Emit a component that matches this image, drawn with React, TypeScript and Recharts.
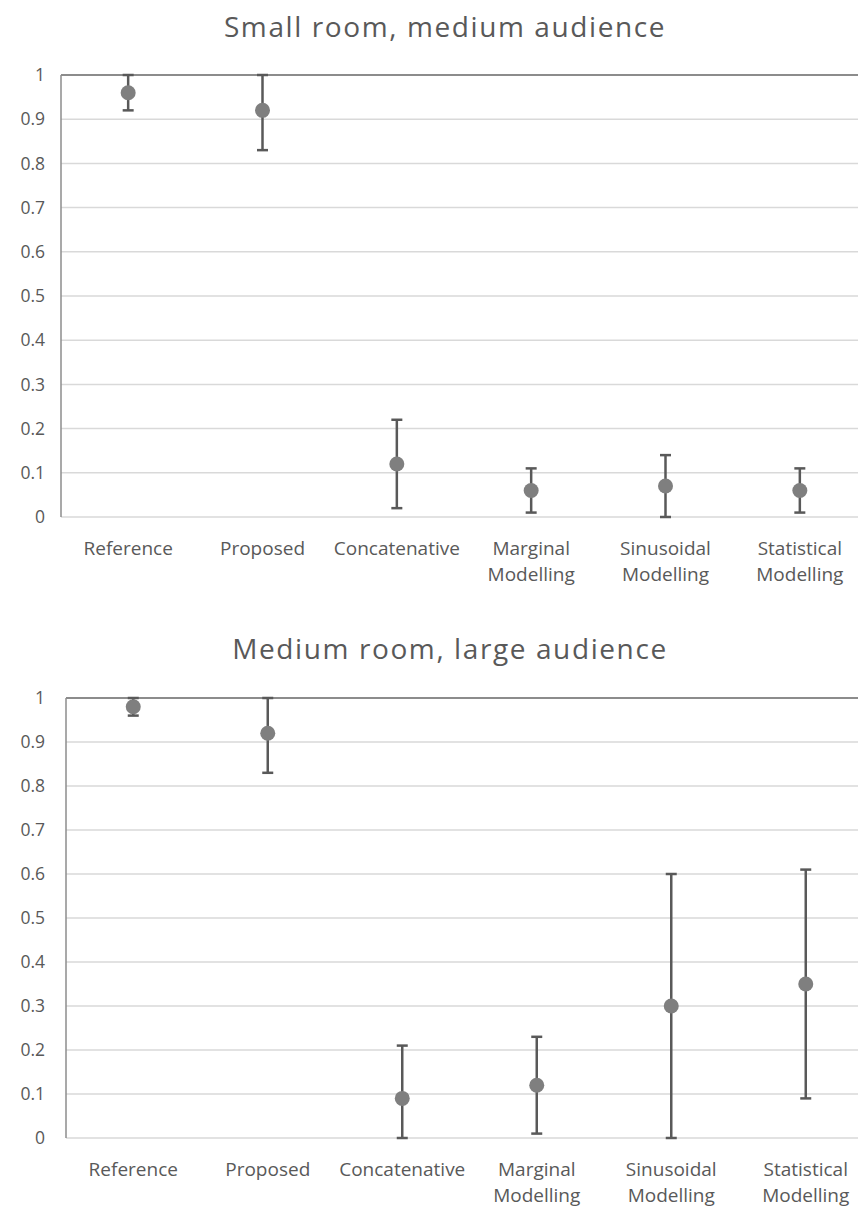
import React from 'react';
import { ComposedChart, Line, ErrorBar, XAxis, YAxis, CartesianGrid, ReferenceLine } from 'recharts';

const categories = ['Reference', 'Proposed', 'Concatenative', 'Marginal Modelling', 'Sinusoidal Modelling', 'Statistical Modelling'];
const yTicks = [0, 0.1, 0.2, 0.3, 0.4, 0.5, 0.6, 0.7, 0.8, 0.9, 1];

const smallTitle = 'Small room, medium audience';
const smallMean = [0.96, 0.92, 0.12, 0.06, 0.07, 0.06];
const smallLow = [0.92, 0.83, 0.02, 0.01, 0.0, 0.01];
const smallHigh = [1.0, 1.0, 0.22, 0.11, 0.14, 0.11];

const mediumTitle = 'Medium room, large audience';
const mediumMean = [0.98, 0.92, 0.09, 0.12, 0.30, 0.35];
const mediumLow = [0.96, 0.83, 0.0, 0.01, 0.0, 0.09];
const mediumHigh = [1.0, 1.0, 0.21, 0.23, 0.60, 0.61];

const FONT = '"Open Sans", sans-serif';
const TEXT = '#595959';

function build(mean: number[], low: number[], high: number[]) {
  return categories.map((c, i) => ({
    name: c,
    value: mean[i],
    err: [mean[i] - low[i], high[i] - mean[i]],
  }));
}

const XTick = (props: any) => {
  const { x, y, payload } = props;
  const words = String(payload.value).split(' ');
  return (
    <g transform={`translate(${x},${y})`}>
      <text textAnchor="middle" fill={TEXT} fontFamily={FONT} fontSize={19}>
        {words.map((w, i) => (
          <tspan key={i} x={0} y={30 + i * 26}>{w}</tspan>
        ))}
      </text>
    </g>
  );
};

type PanelProps = {
  title: string;
  data: any[];
  top: number;
  width: number;
  height: number;
  margin: { top: number; right: number; bottom: number; left: number };
  titleTop: number;
  titleCenter: number;
  tickGap: number;
};

const Panel = ({ title, data, top, width, height, margin, titleTop, titleCenter, tickGap }: PanelProps) => (
  <div style={{ position: 'absolute', left: 0, top, width, height }}>
    <div
      style={{
        position: 'absolute',
        top: titleTop,
        left: titleCenter - 300,
        width: 600,
        textAlign: 'center',
        fontFamily: FONT,
        fontSize: 28,
        letterSpacing: 1.6,
        color: TEXT,
        whiteSpace: 'nowrap',
      }}
    >
      {title}
    </div>
    <ComposedChart width={width} height={height} data={data} margin={margin}>
      <CartesianGrid vertical={false} stroke="#d9d9d9" strokeWidth={1.5} />
      <XAxis
        dataKey="name"
        scale="band"
        axisLine={false}
        tickLine={false}
        tick={<XTick />}
        interval={0}
        height={60}
      />
      <YAxis
        domain={[0, 1]}
        ticks={yTicks}
        allowDataOverflow
        width={40}
        tickLine={false}
        tickSize={0}
        tickMargin={tickGap}
        axisLine={{ stroke: '#8c8c8c', strokeWidth: 1.5 }}
        tick={{ fill: TEXT, fontFamily: FONT, fontSize: 17.5 }}
      />
      <ReferenceLine y={1} stroke="#8c8c8c" strokeWidth={2} />
      <Line
        dataKey="value"
        stroke="none"
        isAnimationActive={false}
        dot={{ r: 7.5, fill: '#7f7f7f', stroke: 'none' }}
        activeDot={false}
      >
        <ErrorBar dataKey="err" direction="y" width={5.5} stroke="#595959" strokeWidth={2.5} />
      </Line>
    </ComposedChart>
  </div>
);

export default function App() {
  return (
    <div style={{ position: 'absolute', left: 0, top: 0, width: 858, height: 1207, overflow: 'hidden', background: '#fff' }}>
      <Panel
        title={smallTitle}
        data={build(smallMean, smallLow, smallHigh)}
        top={0}
        width={880}
        height={600}
        margin={{ top: 75, right: 13, bottom: 23, left: 21 }}
        titleTop={7}
        titleCenter={445}
        tickGap={16}
      />
      <Panel
        title={mediumTitle}
        data={build(mediumMean, mediumLow, mediumHigh)}
        top={620}
        width={886}
        height={587}
        margin={{ top: 78, right: 13, bottom: 9, left: 26 }}
        titleTop={9}
        titleCenter={450}
        tickGap={21}
      />
    </div>
  );
}
